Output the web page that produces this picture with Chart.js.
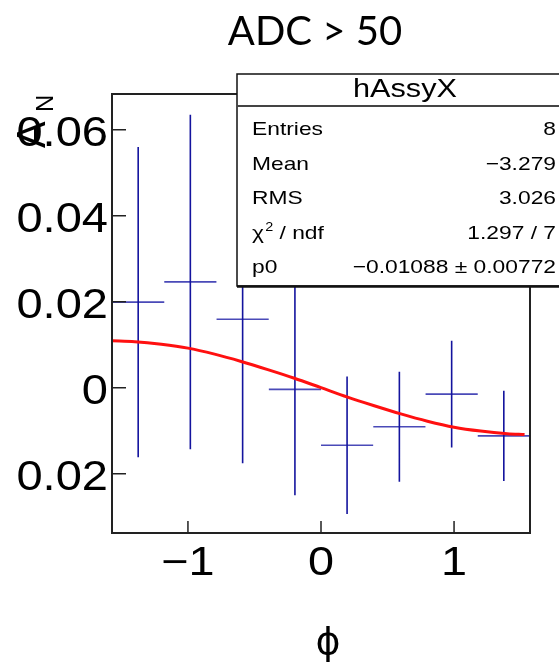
<!DOCTYPE html>
<html lang="en">
<head>
<meta charset="utf-8">
<title>hAssyX</title>
<script src="https://cdn.jsdelivr.net/npm/chart.js@4"></script>
<style>
  html, body { margin: 0; padding: 0; background: #fff; }
  #wrap { width: 559px; height: 665px; }
</style>
</head>
<body>
<div id="wrap"><canvas id="chart" width="559" height="665"></canvas></div>
<script>
"use strict";

// phi bins (centres) and the measured asymmetry with its error
const binCenters = [-1.374, -0.982, -0.589, -0.196, 0.196, 0.589, 0.982, 1.374];
const binHalfWidth = 0.196;
const asym    = [0.0199, 0.0246, 0.0159, -0.0004, -0.0134, -0.0091, -0.0015, -0.0112];
const asymErr = [0.0361, 0.0389, 0.0335, 0.0246, 0.0160, 0.0128, 0.0124, 0.0105];

// red fit curve
const fitPhi = [-1.571, -1.4, -1.2, -1.0, -0.8, -0.6, -0.4, -0.2, 0, 0.2, 0.4, 0.6, 0.8, 1.0, 1.2, 1.4, 1.53];
const fitVal = [0.0109, 0.0107, 0.0101, 0.0092, 0.0078, 0.0061, 0.0042, 0.0022, 0.0, -0.0022, -0.0042, -0.0061, -0.0078, -0.0092, -0.0101, -0.0107, -0.0109];

// axes
const xRange = [-1.5708, 1.5708];
const yRange = [-0.0338, 0.0683];
const xTicks = [-1, 0, 1];
const yTicks = [-0.02, 0, 0.02, 0.04, 0.06];

// stats box
const statTitle = "hAssyX";
const statNames = ["Entries", "Mean", "RMS", "chi2", "p0"];
const statValues = ["8", "\u22123.279", "3.026", "1.297 / 7", "\u22120.01088 \u00b1 0.00772"];

const helv = "'Liberation Sans', Arial, Helvetica, sans-serif";

// ROOT prints negative numbers with a real minus sign
function fmt(v, gap) {
    const s = String(v);
    return v < 0 ? "\u2212" + (gap || "") + s.slice(1) : s;
}

// text is a bit wider than the font in the original picture
function wideText(ctx, text, x, y, font, align, sx) {
    ctx.save();
    ctx.translate(x, y);
    ctx.scale(sx, 1);
    ctx.font = font;
    ctx.textAlign = align;
    ctx.textBaseline = "alphabetic";
    ctx.fillText(text, 0, 0);
    ctx.restore();
}

// error crosses as broken line segments
const hSegs = [];
const vSegs = [];
binCenters.forEach((c, i) => {
    hSegs.push({x: c - binHalfWidth, y: asym[i]}, {x: c + binHalfWidth, y: asym[i]}, {x: c, y: null});
    vSegs.push({x: c, y: asym[i] - asymErr[i]}, {x: c, y: asym[i] + asymErr[i]}, {x: c, y: null});
});
const fitPoints = fitPhi.map((p, i) => ({x: p, y: fitVal[i]}));

const rootLook = {
    id: "rootLook",
    afterDraw(chart) {
        const ctx = chart.ctx;
        const a = chart.chartArea;
        const xs = chart.scales.x;
        const ys = chart.scales.y;
        ctx.save();

        // frame and inner tick marks
        ctx.strokeStyle = "#222";
        ctx.lineWidth = 2;
        ctx.strokeRect(a.left, a.top, a.right - a.left, a.bottom - a.top);
        ctx.lineWidth = 1.5;
        ctx.beginPath();
        xs.ticks.forEach(t => {
            const px = xs.getPixelForValue(t.value);
            ctx.moveTo(px, a.bottom);
            ctx.lineTo(px, a.bottom - 12);
        });
        ys.ticks.forEach(t => {
            const py = ys.getPixelForValue(t.value);
            ctx.moveTo(a.left, py);
            ctx.lineTo(a.left + 14, py);
        });
        ctx.stroke();

        // tick labels
        ctx.fillStyle = "#000";
        xs.ticks.forEach(t => wideText(ctx, fmt(t.value), xs.getPixelForValue(t.value), a.bottom + 42, "40px " + helv, "center", 1.17));
        ys.ticks.forEach(t => wideText(ctx, fmt(t.value, "\u2002"), a.left - 4, ys.getPixelForValue(t.value) + 16, "42px " + helv, "right", 1.12));

        // y title A_N, rotated
        ctx.save();
        ctx.translate(45, 148);
        ctx.rotate(-Math.PI / 2);
        ctx.font = "40px " + helv;
        ctx.textAlign = "left";
        ctx.fillText("A", 0, 0);
        ctx.font = "24px " + helv;
        ctx.fillText("N", 36, 8);
        ctx.restore();

        // title and x title
        ctx.font = "40px Lato, 'Open Sans', sans-serif";
        ctx.textAlign = "center";
        ctx.fillText("ADC > 50", 315, 45);
        ctx.font = "38px 'DejaVu Sans', sans-serif";
        ctx.fillText("\u03d5", 328, 654);

        // stats box
        const bx = 237, by = 74, bw = 340, bh = 212;
        ctx.fillStyle = "#fff";
        ctx.fillRect(bx, by, bw, bh);
        ctx.strokeStyle = "#111";
        ctx.lineWidth = 1.5;
        ctx.strokeRect(bx, by, bw, bh);
        ctx.lineWidth = 2.5;
        ctx.beginPath();
        ctx.moveTo(bx, by + bh + 0.5);
        ctx.lineTo(bx + bw, by + bh + 0.5);
        ctx.stroke();
        ctx.strokeStyle = "#444";
        ctx.lineWidth = 2;
        ctx.beginPath();
        ctx.moveTo(bx, 106);
        ctx.lineTo(bx + bw, 106);
        ctx.stroke();

        ctx.fillStyle = "#000";
        wideText(ctx, statTitle, 405, 97, "26px " + helv, "center", 1.18);
        const rowBase = [135, 170, 204, 239, 273];
        statNames.forEach((n, i) => {
            if (n === "chi2") {
                ctx.save();
                ctx.translate(252, rowBase[i]);
                ctx.scale(1.2, 1);
                ctx.font = "19px " + helv;
                ctx.textAlign = "left";
                ctx.fillText("\u03c7", 0, 0);
                let w = ctx.measureText("\u03c7").width + 1;
                ctx.font = "12px " + helv;
                ctx.fillText("2", w, -8);
                w += ctx.measureText("2").width;
                ctx.font = "19px " + helv;
                ctx.fillText(" / ndf", w, 0);
                ctx.restore();
            } else {
                wideText(ctx, n, 252, rowBase[i], "19px " + helv, "left", 1.2);
            }
            wideText(ctx, statValues[i], 556, rowBase[i], "19px " + helv, "right", 1.2);
        });

        ctx.restore();
    }
};

new Chart(document.getElementById("chart"), {
    type: "scatter",
    data: {
        datasets: [{
            data: fitPoints,
            showLine: true,
            borderColor: "#ff1010",
            borderWidth: 3,
            pointRadius: 0,
            cubicInterpolationMode: "monotone"
        }, {
            data: vSegs,
            showLine: true,
            spanGaps: false,
            borderColor: "#14149e",
            borderWidth: 1.6,
            pointRadius: 0
        }, {
            data: hSegs,
            showLine: true,
            spanGaps: false,
            borderColor: "#4a4ab8",
            borderWidth: 1.6,
            pointRadius: 0
        }]
    },
    options: {
        responsive: false,
        animation: false,
        layout: {
            padding: {top: 94, right: 29, left: 0, bottom: 0}
        },
        plugins: {
            legend: {display: false},
            tooltip: {enabled: false}
        },
        scales: {
            x: {
                type: "linear",
                min: xRange[0],
                max: xRange[1],
                grid: {display: false},
                border: {display: false},
                ticks: {display: false},
                afterBuildTicks: s => { s.ticks = xTicks.map(v => ({value: v})); },
                afterFit: s => { s.height = 132; }
            },
            y: {
                min: yRange[0],
                max: yRange[1],
                grid: {display: false},
                border: {display: false},
                ticks: {display: false},
                afterBuildTicks: s => { s.ticks = yTicks.map(v => ({value: v})); },
                afterFit: s => { s.width = 112; }
            }
        }
    },
    plugins: [rootLook]
});
</script>
</body>
</html>
